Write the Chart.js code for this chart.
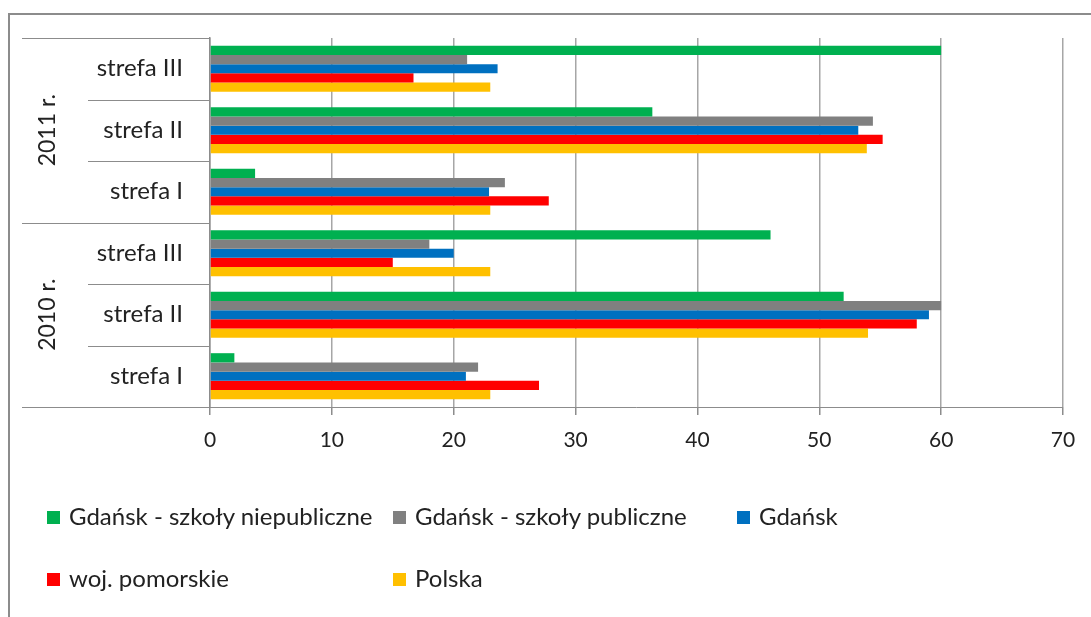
<!DOCTYPE html>
<html>
<head>
<meta charset="utf-8">
<script src="https://cdn.jsdelivr.net/npm/chart.js@4"></script>
<style>
  body { margin: 0; background: #fff; }
  #wrap { position: relative; width: 1091px; height: 617px; overflow: hidden; }
  #frame { position: absolute; left: 8px; top: 13px; width: 1100px; height: 700px;
           border-left: 2px solid #8c8c8c; border-top: 2px solid #8c8c8c; }
  #legend { position: absolute; left: 0; top: 0; font-family: Lato, sans-serif; font-size: 24px; color: #222; }
  .item { position: absolute; white-space: nowrap; line-height: 28px; }
  .item span.box { display: inline-block; width: 13px; height: 13px; margin-right: 9px; vertical-align: 1px; }
</style>
</head>
<body>
<div id="wrap">
  <canvas id="wykres" width="1091" height="617"></canvas>
  <div id="frame"></div>
  <div id="legend"></div>
</div>
<script>
const kategorie = ['strefa I', 'strefa II', 'strefa III', 'strefa I', 'strefa II', 'strefa III'];
const lata = ['', '2010 r.', '', '', '2011 r.', ''];
const niepubliczne = [2, 52, 46, 3.7, 36.3, 60];
const publiczne = [22, 60, 18, 24.2, 54.4, 21.1];
const gdansk = [21, 59, 20, 22.9, 53.2, 23.6];
const pomorskie = [27, 58, 15, 27.8, 55.2, 16.7];
const polska = [23, 54, 23, 23, 53.9, 23];
const osX = [0, 10, 20, 30, 40, 50, 60, 70];

const serie = [
  { label: 'Gdańsk - szkoły niepubliczne', data: niepubliczne, backgroundColor: '#00B050' },
  { label: 'Gdańsk - szkoły publiczne', data: publiczne, backgroundColor: '#808080' },
  { label: 'Gdańsk', data: gdansk, backgroundColor: '#0070C0' },
  { label: 'woj. pomorskie', data: pomorskie, backgroundColor: '#FF0000' },
  { label: 'Polska', data: polska, backgroundColor: '#FFC000' }
];

// linie podzialu przy etykietach kategorii
const podzialy = {
  id: 'podzialy',
  afterDraw(chart) {
    const y = chart.scales.y;
    const y2 = chart.scales.y2;
    const ctx = chart.ctx;
    const krok = Math.abs(y.getPixelForValue(1) - y.getPixelForValue(0));
    ctx.save();
    ctx.strokeStyle = '#8c8c8c';
    ctx.lineWidth = 1;
    for (let i = 0; i <= kategorie.length; i++) {
      const py = Math.round(y.getPixelForValue(i) + krok / 2) + 0.5;
      const start = (i % 3 === 0) ? y2.left : y.left;
      ctx.beginPath();
      ctx.moveTo(start, py);
      ctx.lineTo(y.right, py);
      ctx.stroke();
    }
    ctx.restore();
  }
};

new Chart(document.getElementById('wykres'), {
  type: 'bar',
  data: {
    labels: kategorie,
    datasets: serie.map(s => ({ ...s, borderWidth: 0, categoryPercentage: 0.75, barPercentage: 1.0 }))
  },
  options: {
    indexAxis: 'y',
    responsive: false,
    animation: false,
    layout: { padding: { top: 38, left: 22, right: 28, bottom: 160 } },
    plugins: { legend: { display: false }, tooltip: { enabled: false } },
    scales: {
      x: {
        min: 0, max: 70,
        afterBuildTicks: s => { s.ticks = osX.map(v => ({ value: v })); },
        afterFit: s => { s.height = 50; },
        grid: { color: '#a6a6a6', lineWidth: 1.5, tickLength: 8, tickColor: '#8c8c8c' },
        border: { color: '#8c8c8c', width: 1 },
        ticks: { font: { family: 'Lato', size: 21 }, color: '#222', padding: 13 }
      },
      y: {
        reverse: true,
        offset: true,
        weight: 0,
        afterFit: s => { s.width = 122; },
        grid: { display: false, offset: true },
        border: { color: '#8c8c8c', width: 1.5 },
        ticks: { font: { family: 'Lato', size: 24 }, color: '#222', padding: 19, autoSkip: false }
      },
      y2: {
        type: 'category',
        axis: 'y',
        position: 'left',
        labels: lata,
        reverse: true,
        offset: true,
        weight: 1,
        afterFit: s => { s.width = 66; },
        grid: { display: false, drawTicks: true, tickLength: 1 },
        border: { display: false },
        ticks: { font: { family: 'Lato', size: 23 }, color: '#222', minRotation: 90, maxRotation: 90, crossAlign: 'center', autoSkip: false }
      }
    }
  },
  plugins: [podzialy]
});

// legenda w dwoch wierszach, trzy kolumny
const kolumny = [47, 393, 737];
const wiersze = [516, 578];
const legenda = document.getElementById('legend');
serie.forEach((s, i) => {
  const el = document.createElement('div');
  el.className = 'item';
  el.style.left = kolumny[i % 3] + 'px';
  el.style.top = (wiersze[Math.floor(i / 3)] - 14) + 'px';
  el.innerHTML = '<span class="box" style="background:' + s.backgroundColor + '"></span>' + s.label;
  legenda.appendChild(el);
});
</script>
</body>
</html>
